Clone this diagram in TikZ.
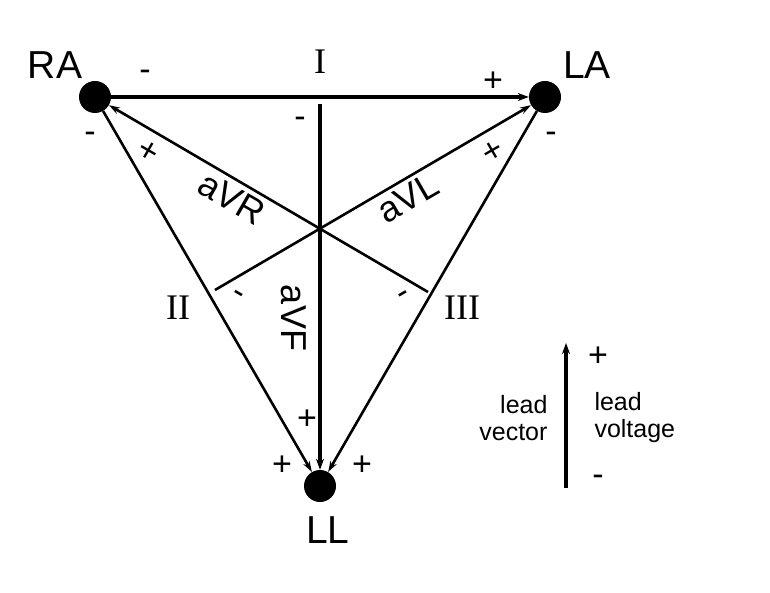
\documentclass[tikz,border=0pt]{standalone}
\usepackage{fontspec}
\setmainfont{Liberation Sans}
\newfontfamily\serif{Liberation Serif}
\usetikzlibrary{arrows.meta}
\begin{document}
\begin{tikzpicture}[x=1pt,y=-1pt,
  lead/.style={line width=3.4pt,-{Stealth[length=11pt,width=8pt]}},
  thin/.style={line width=2.6pt,-{Stealth[length=11pt,width=7pt]}},
  dot/.style={circle,fill=black,minimum size=32pt,inner sep=0pt},
  big/.style={font=\fontsize{39}{39}\selectfont},
  rom/.style={font=\serif\fontsize{36}{36}\selectfont},
  sg/.style={font=\fontsize{34}{34}\selectfont},
  av/.style={font=\fontsize{36}{36}\selectfont},
  sm/.style={font=\fontsize{25}{27}\selectfont}]
\useasboundingbox (0,0) rectangle (770,593);
\node[dot] (RA) at (95,97) {};
\node[dot] (LA) at (545,97) {};
\node[dot] (LL) at (320,486) {};
\coordinate (F0) at (320,104);
\coordinate (R0) at (428,292);
\coordinate (L0) at (215,290);
\draw[lead] (RA) -- (LA);
\draw[thin] (RA) -- (LL);
\draw[thin] (LA) -- (LL);
\draw[lead] (F0) -- (LL);
\draw[thin] (R0) -- (RA);
\draw[thin] (L0) -- (LA);
\node[big] at (55,65) {RA};
\node[big] at (587,65) {LA};
\node[big] at (328,530) {LL};
\node[rom] at (320,62) {I};
\node[rom] at (178,308) {II};
\node[rom] at (462,308) {III};
\node[av,rotate=-30] at (232,198) {aVR};
\node[av,rotate=30] at (408,198) {aVL};
\node[av,rotate=-90] at (294,318) {aVF};
\node[sg] at (145,75) {-};
\node[sg] at (493,82) {+};
\node[sg] at (90,137) {-};
\node[sg,rotate=-30] at (148,152) {+};
\node[sg] at (300,122) {-};
\node[sg,rotate=30] at (493,152) {+};
\node[sg] at (551,137) {-};
\node[sg,rotate=-30] at (237,297) {-};
\node[sg,rotate=30] at (405,297) {-};
\node[sg] at (307,420) {+};
\node[sg] at (282,466) {+};
\node[sg] at (362,466) {+};
\coordinate (V0) at (566,488);
\coordinate (V1) at (566,343);
\draw[lead] (V0) -- (V1);
\node[sg] at (598,357) {+};
\node[sg] at (598,480) {-};
\node[sm,align=right,anchor=east] at (551,418) {lead\\vector};
\node[sm,align=left,anchor=west] at (591,418) {lead\\voltage};
\end{tikzpicture}
\end{document}
